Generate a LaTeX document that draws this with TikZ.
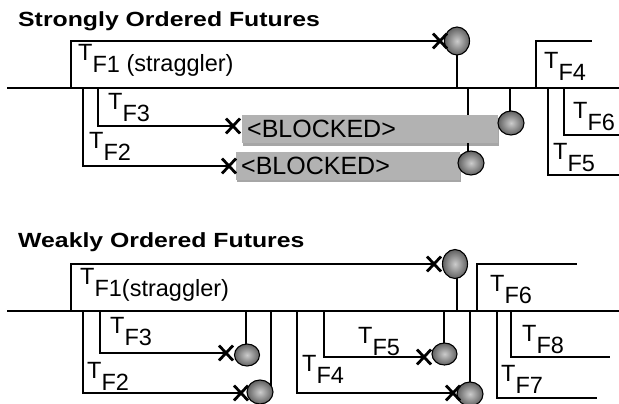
\documentclass[tikz,border=0pt]{standalone}
\usepackage{fontspec}
\setmainfont{Liberation Sans}
\newfontfamily\headfont[FakeStretch=1.21]{Liberation Sans}
\usetikzlibrary{shapes.geometric,shadows,backgrounds}

% thread label: T with the future's name set lower
\newcommand\TF[1]{T\raisebox{-12pt}{F#1}}

\begin{document}
\begin{tikzpicture}[x=1pt,y=-1pt,
  line/.style={line width=1.8pt},
  lbl/.style={inner sep=0pt, anchor=base west, font=\fontsize{23.5}{27}\selectfont},
  head/.style={inner sep=0pt, anchor=base west, font=\headfont\bfseries\fontsize{20.5}{24}\selectfont},
  ball/.style={ellipse, draw=black, line width=1.1pt, inner sep=0pt,
    shading=radial, inner color=black!20, outer color=black!62},
  blocked/.style={rectangle, fill=black!30, inner xsep=5pt, inner ysep=0pt, anchor=west,
    minimum height=28pt, align=left, font=\fontsize{25}{28}\selectfont,
    drop shadow={shadow xshift=1pt, shadow yshift=-2.5pt, fill=black, opacity=0.35}},
  xcross/.pic={\draw[line width=2.8pt] (-7,-7.5) -- (7,7.5) (-7,7.5) -- (7,-7.5);}]
\useasboundingbox (0,0) rectangle (619,404);

% ---------------- strongly ordered ----------------
\node[head] (h1) at (18,27) {Strongly Ordered Futures};
\coordinate (a0) at (7,88);
\coordinate (a1) at (619,88);
\draw[line] (a0) -- (a1);

% forks off the main thread
\coordinate (p1) at (71,88);  \coordinate (x1) at (440,41);
\coordinate (p3) at (98,88);  \coordinate (x3) at (233,126);
\coordinate (p2) at (83,88);  \coordinate (x2) at (229,166);
\draw[line] (p1) |- (x1);
\draw[line] (p3) |- (x3);
\draw[line] (p2) |- (x2);

\coordinate (p4) at (536,88); \coordinate (e4) at (592,41);
\coordinate (p5) at (548,88); \coordinate (e5) at (619,175);
\coordinate (p6) at (564,88); \coordinate (e6) at (619,135);
\draw[line] (p4) |- (e4);
\draw[line] (p5) |- (e5);
\draw[line] (p6) |- (e6);

% blocked joins
\node[blocked, text width=246pt] (b1) at (242,129) {<BLOCKED>};
\node[blocked, text width=214pt] (b2) at (236,165.5) {<BLOCKED>};

% join points
\node[ball, minimum width=25pt, minimum height=28pt] (c1) at (457,41) {};
\node[ball, minimum width=26pt, minimum height=24pt] (c2) at (471,163) {};
\node[ball, minimum width=26pt, minimum height=24pt] (c3) at (511,123) {};
\coordinate (s1) at (457,88);
\coordinate (s2) at (468,88);
\coordinate (s3) at (510,88);
\begin{scope}[on background layer]
  \draw[line] (s1) -- (s1 |- c1);
  \draw[line] (s2) -- (s2 |- c2);
  \draw[line] (s3) -- (s3 |- c3);
\end{scope}

\pic at (x1) {xcross};
\pic at (x3) {xcross};
\pic at (x2) {xcross};

\node[lbl] (l1) at (78,61) {\TF{1}\raisebox{-11pt}{\ (straggler)}};
\node[lbl] (l3) at (108,110) {\TF{3}};
\node[lbl] (l2) at (89,148) {\TF{2}};
\node[lbl] (l4) at (544,69) {\TF{4}};
\node[lbl] (l6) at (573,118) {\TF{6}};
\node[lbl] (l5) at (553,159) {\TF{5}};

% ---------------- weakly ordered ----------------
\node[head] (h2) at (18,247) {Weakly Ordered Futures};
\coordinate (b0) at (7,311);
\coordinate (bb) at (619,311);
\draw[line] (b0) -- (bb);

\coordinate (q1) at (71,311);  \coordinate (y1) at (434,264);
\coordinate (q3) at (100,311); \coordinate (y3) at (226,353);
\coordinate (q2) at (83,311);  \coordinate (y2) at (241,393);
\coordinate (q4) at (297,311); \coordinate (y4) at (453,393);
\coordinate (q5) at (324,311); \coordinate (y5) at (424,357);
\draw[line] (q1) |- (y1);
\draw[line] (q3) |- (y3);
\draw[line] (q2) |- (y2);
\draw[line] (q4) |- (y4);
\draw[line] (q5) |- (y5);

\coordinate (q6) at (477,311); \coordinate (f6) at (577,264);
\coordinate (q7) at (497,311); \coordinate (f7) at (597,398);
\coordinate (q8) at (511,311); \coordinate (f8) at (610,357);
\draw[line] (q6) |- (f6);
\draw[line] (q7) |- (f7);
\draw[line] (q8) |- (f8);

\node[ball, minimum width=25pt, minimum height=29pt] (d1) at (455,264) {};
\node[ball, minimum width=25pt, minimum height=22pt] (d3) at (247,355) {};
\node[ball, minimum width=26pt, minimum height=24pt] (d2) at (260,392) {};
\node[ball, minimum width=26pt, minimum height=24pt] (d4) at (470,394) {};
\node[ball, minimum width=25pt, minimum height=22pt] (d5) at (444.5,354) {};
\coordinate (t1) at (457,311);
\coordinate (t3) at (246,311);
\coordinate (t2) at (271,311);
\coordinate (t4) at (470,311);
\coordinate (t5) at (444,311);
\begin{scope}[on background layer]
  \draw[line] (t1) -- (t1 |- d1);
  \draw[line] (t3) -- (t3 |- d3);
  \draw[line] (t2) -- (t2 |- d2);
  \draw[line] (t4) -- (t4 |- d4);
  \draw[line] (t5) -- (t5 |- d5);
\end{scope}

\pic at (y1) {xcross};
\pic at (y3) {xcross};
\pic at (y2) {xcross};
\pic at (y4) {xcross};
\pic at (y5) {xcross};

\node[lbl] (m1) at (80,284) {\TF{1}\raisebox{-12pt}{(straggler)}};
\node[lbl] (m3) at (110,333) {\TF{3}};
\node[lbl] (m2) at (87,378) {\TF{2}};
\node[lbl] (m4) at (302,371) {\TF{4}};
\node[lbl] (m5) at (358,343) {\TF{5}};
\node[lbl] (m6) at (490,291) {\TF{6}};
\node[lbl] (m8) at (522,341) {\TF{8}};
\node[lbl] (m7) at (501,381) {\TF{7}};
\end{tikzpicture}
\end{document}
